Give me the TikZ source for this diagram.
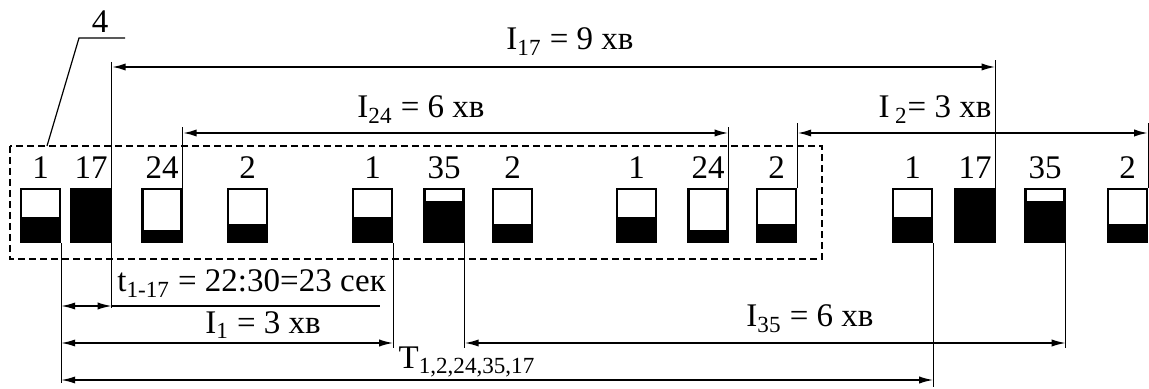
\documentclass[tikz,border=0pt]{standalone}
\usepackage{fontspec}
\setmainfont{Liberation Serif}
\usetikzlibrary{arrows.meta}

\begin{document}
\begin{tikzpicture}[x=.5pt,y=-.5pt,>={Latex[length=7pt,width=3.6pt]},
  every node/.style={font=\fontsize{16.5}{18}\selectfont,inner sep=0pt},
  tank/.style={draw,line width=1.2pt,minimum width=19.5pt,minimum height=26.5pt},
  ext/.style={line width=.6pt},
  dimtop/.style={<->,line width=1pt},
  dimbot/.style={<->,line width=.75pt},
  frame/.style={dash pattern=on 3.5pt off 2pt,line width=.65pt}]
\useasboundingbox (0,0) rectangle (1149,389);
% bunker cells with fill level
\foreach \n/\x/\lab/\lv in {1/40.5/1/13,2/91/17/27.5,3/162/24/6.5,4/247.5/2/9.5,5/372.5/1/13,6/444/35/21,7/512.5/2/9.5,
  8/636.5/1/13,9/708/24/6.5,10/776.5/2/9.5,11/912.5/1/13,12/975/17/27.5,13/1045/35/21,14/1127.5/2/9.5}{
  \node[tank,label={[label distance=4.5pt]above:\lab}] (p\n) at (\x,215.5) {};
  \fill ([yshift=\lv pt]p\n.south west) rectangle (p\n.south east);
}
\draw[frame] (10,146) rectangle (822,259);
\draw[ext] (47,146) -- (79,38) -- (125,38);\node (n4) at (100,22) {4};
% upper intervals
\draw[ext] (p2.north east |- 0,62) -- (p2.south east |- 0,308);\draw[ext] (p12.north east) -- (p12.north east |- 0,60);
\draw[dimtop] (p2.east |- 0,67) -- (p12.east |- 0,67);\node[anchor=base] (i17) at (570,50) {I\textsubscript{17} = 9 хв};
\draw[ext] (p3.north east) -- (p3.north east |- 0,127);\draw[ext] (p9.north east) -- (p9.north east |- 0,127);
\draw[dimtop] (p3.east |- 0,133) -- (p9.east |- 0,133);\node[anchor=base] (i24) at (421,118) {I\textsubscript{24} = 6 хв};
\draw[ext] (p10.north east) -- (p10.north east |- 0,123);\draw[ext] (p14.north east) -- (p14.north east |- 0,123);
\draw[dimtop] (p10.east |- 0,133) -- (p14.east |- 0,133);\node[anchor=base] (i2) at (935,118) {I\,\textsubscript{2}= 3 хв};
% lower intervals
\draw[ext] (p1.south east) -- (p1.south east |- 0,383);\draw[ext] (p5.south east) -- (p5.south east |- 0,348);
\draw[ext] (p6.south east) -- (p6.south east |- 0,348);\draw[ext] (p11.south east) -- (p11.south east |- 0,387);
\draw[ext] (p13.south east) -- (p13.south east |- 0,348);
\draw[dimbot] (p1.east |- 0,306) -- (p2.east |- 0,306);\draw[ext] (p2.east |- 0,306) -- (380,306);
\node[anchor=base west] (t117) at (117,292) {t\textsubscript{1-17} = 22:30=23 сек};
\draw[dimbot] (p1.east |- 0,343) -- (p5.east |- 0,343);\node[anchor=base] (i1) at (263,333) {I\textsubscript{1} = 3 хв};
\draw[dimbot] (p6.east |- 0,343) -- (p13.east |- 0,343);\node[anchor=base] (i35) at (810,327) {I\textsubscript{35} = 6 хв};
\draw[dimbot] (p1.east |- 0,380) -- (p11.east |- 0,380);\node[anchor=base] (tall) at (467,368) {T\textsubscript{1,2,24,35,17}};
\end{tikzpicture}
\end{document}
